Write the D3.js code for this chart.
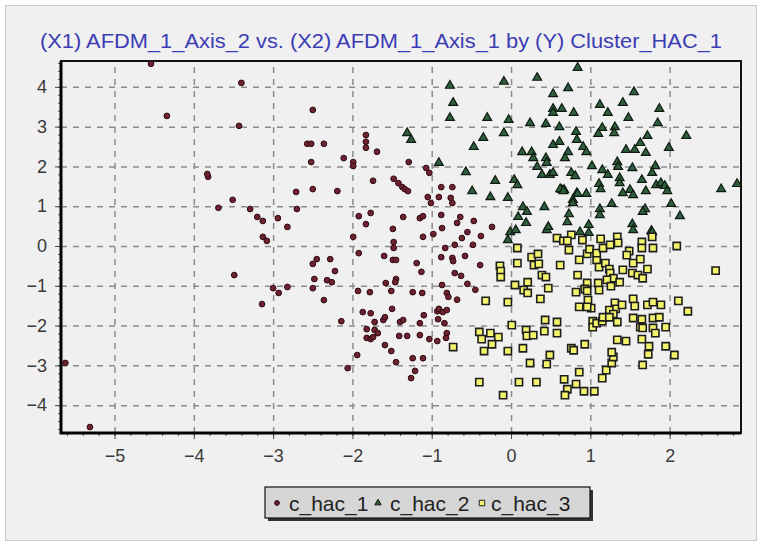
<!DOCTYPE html>
<html>
<head>
<meta charset="utf-8">
<script src="https://cdn.jsdelivr.net/npm/d3@7.9.0/dist/d3.min.js"></script>
<style>
  body { margin: 0; background: #fff; }
  svg { display: block; font-family: "Liberation Sans", Arial, sans-serif; }
</style>
</head>
<body>
<div id="chart"></div>
<script>
// cluster points: [Axis_1, Axis_2]
const hac1 = [
  [-4.54,4.58],[-4.34,3.27],[-3.82,1.74],[-3.83,1.81],[-5.62,-2.94],[-5.31,-4.55],
  [-3.40,4.10],[-2.50,3.42],[-3.43,3.02],[-2.57,2.57],[-2.52,2.57],[-2.36,2.57],
  [-1.83,2.79],[-1.83,2.62],[-1.83,2.47],[-1.69,2.37],[-2.52,2.11],[-2.11,2.21],
  [-1.99,2.11],[-1.99,2.01],[-1.29,2.11],[-1.07,1.96],[-1.03,1.84],[-1.74,1.64],
  [-1.48,1.69],[-1.42,1.58],[-1.37,1.48],[-1.34,1.43],[-1.30,1.38],[-2.71,1.36],
  [-2.50,1.43],[-2.19,1.38],[-3.51,1.16],[-3.69,0.96],[-3.29,0.93],[-3.20,0.73],
  [-3.13,0.63],[-2.94,0.70],[-2.70,0.93],[-2.82,0.48],[-3.13,0.23],[-3.08,0.13],
  [-1.92,0.75],[-1.77,0.83],[-1.83,0.55],[-1.36,0.73],[-1.49,0.43],[-1.99,0.23],
  [-1.48,0.10],[-1.48,-0.05],[-1.11,0.23],[-0.98,0.30],[-1.15,0.70],[-1.11,0.75],
  [-1.05,1.23],[-1.01,1.08],[-0.91,1.23],[-0.88,1.48],[-0.88,0.78],[-1.92,-0.18],
  [-1.60,-0.25],[-1.49,-0.35],[-1.45,-0.35],[-1.19,-0.43],[-1.13,-0.65],[-0.88,-0.28],
  [-3.49,-0.73],[-2.45,-0.33],[-2.50,-0.45],[-2.28,-0.33],[-2.22,-0.63],[-2.48,-0.83],
  [-2.32,-0.86],[-2.26,-0.91],[-3.00,-1.06],[-2.93,-1.18],[-2.82,-1.03],[-2.50,-1.06],
  [-3.14,-1.46],[-2.36,-1.36],[-1.93,-1.13],[-1.78,-1.16],[-1.58,-0.93],[-1.45,-0.83],
  [-1.46,-0.91],[-1.51,-1.13],[-1.24,-1.16],[-1.12,-1.18],[-0.87,-0.98],[-0.81,-1.18],
  [-0.79,-1.28],[-1.50,-1.58],[-1.87,-1.66],[-1.77,-1.69],[-2.14,-1.89],[-1.72,-1.91],
  [-1.61,-1.86],[-1.59,-1.79],[-1.40,-1.91],[-1.36,-1.86],[-1.15,-1.94],[-1.10,-1.74],
  [-0.93,-1.64],[-0.91,-1.58],[-0.86,-1.66],[-0.81,-1.61],[-0.92,-1.84],[-0.84,-1.94],
  [-1.82,-2.09],[-1.72,-2.11],[-1.68,-2.19],[-1.82,-2.31],[-1.77,-2.34],[-1.74,-2.29],
  [-1.59,-2.49],[-1.41,-2.26],[-1.31,-2.26],[-1.15,-2.24],[-1.03,-2.34],[-0.93,-2.39],
  [-0.81,-2.19],[-0.82,-2.31],[-1.94,-2.74],[-2.06,-3.07],[-1.51,-2.64],[-1.45,-2.92],
  [-1.24,-2.82],[-1.11,-2.82],[-1.21,-3.14],[-1.26,-3.32],
  [-0.74,1.48],[-0.76,1.21],[-0.74,1.08],[-0.64,0.73],[-0.68,0.58],[-0.47,0.63],
  [-0.87,0.45],[-0.55,0.35],[-0.62,0.20],[-0.38,0.25],[-0.24,0.48],[-0.83,-0.05],
  [-0.71,0.03],[-0.48,0.03],[-0.74,-0.30],[-0.73,-0.38],[-0.39,-0.48],[-0.71,-0.68],
  [-0.63,-0.75],[-0.55,-0.95],[-0.68,-1.35],[-0.45,-1.10],[-0.58,-0.25]
];

const hac2 = [
  [-0.77,4.03],[-0.73,3.60],[-0.77,3.22],[-1.31,2.84],[-1.26,2.67],[-0.09,4.13],
  [0.33,4.23],[-0.30,3.22],[-0.03,3.17],[-0.09,2.84],[-0.35,2.72],[-0.47,2.49],
  [-0.91,2.09],[-0.57,1.86],[-0.20,1.64],[-0.49,1.38],[-0.26,1.23],[-0.04,1.21],
  [0.04,1.66],[0.08,1.53],[0.15,0.98],[0.42,0.98],[0.72,3.97],[0.53,3.82],
  [0.53,3.45],[0.64,3.45],[0.53,3.35],[0.79,3.35],[0.24,3.09],[0.44,3.07],[0.61,2.99],
  [0.82,2.87],[0.14,2.36],[0.26,2.36],[0.28,2.21],[0.53,2.54],[0.61,2.62],[0.44,2.21],
  [0.45,2.09],[0.72,2.36],[0.68,2.21],[0.83,2.67],[0.33,1.99],[0.39,1.79],[0.49,1.79],
  [0.53,1.84],[0.76,1.84],[0.81,1.76],[0.64,1.41],[0.67,1.41],[0.78,1.16],[0.83,1.33],
  [0.84,4.48],[1.12,3.55],[1.22,3.35],[1.41,3.60],[1.55,3.87],[1.48,3.22],[1.87,3.45],
  [1.85,3.09],[1.15,2.97],[1.10,2.82],[1.31,2.99],[1.30,2.84],[1.72,2.77],[2.21,2.77],
  [0.91,2.49],[0.95,2.36],[1.45,2.42],[1.56,2.42],[1.63,2.59],[1.70,2.34],[1.99,2.47],
  [1.02,2.01],[1.15,1.91],[1.22,1.79],[1.34,2.11],[1.35,1.99],[1.53,1.96],[1.82,2.01],
  [1.78,1.84],[1.65,1.66],[1.37,1.71],[1.37,1.58],[1.11,1.56],[1.13,1.43],[1.83,1.53],
  [1.89,1.58],[1.94,1.51],[1.97,1.38],[1.70,1.38],[1.50,1.41],[1.54,1.28],[1.41,1.33],
  [0.62,1.43],[0.66,1.38],[0.84,1.31],[0.95,1.31],[0.78,1.08],[1.27,1.06],[1.12,0.93],
  [1.12,0.78],[1.69,0.93],[1.66,0.86],[2.02,1.06],[2.13,0.75],[0.73,0.80],[0.71,0.60],
  [0.98,0.53],[0.98,0.33],[0.87,0.35],[1.53,0.55],[1.54,0.40],[1.77,0.38],[2.65,1.43],
  [2.85,1.56],[0.20,0.86],[0.09,0.73],[0.19,0.58],[-0.01,0.35],
  [0.06,0.40],[-0.04,0.15],[0.45,0.40],[0.47,0.48],[1.78,0.35]
];

const hac3 = [
  [0.58,0.20],[0.66,0.13],[0.76,0.28],[0.71,0.13],[0.08,-0.05],[0.73,-0.10],
  [0.26,-0.28],[0.34,-0.20],[0.08,-0.43],[-0.14,-0.50],[-0.13,-0.63],[-0.13,-0.78],
  [0.29,-0.48],[0.35,-0.45],[0.62,-0.48],[0.39,-0.73],[0.44,-0.78],[0.05,-0.98],
  [0.21,-0.91],[0.16,-1.11],[0.21,-1.18],[0.47,-1.06],[-0.32,-1.38],[-0.04,-1.41],
  [0.37,-1.33],[0.86,-0.35],[0.84,-0.73],[0.96,-0.93],[0.82,-1.16],[1.08,-0.35],
  [1.11,-0.53],[1.19,-0.43],[1.24,-0.58],[0.93,-1.08],[0.96,-1.13],[0.90,0.15],
  [0.96,-0.20],[0.99,-0.08],[1.08,-0.18],[1.13,0.18],[1.16,-0.05],[1.25,0.03],
  [1.34,0.23],[1.35,0.08],[1.49,-0.13],[1.46,-0.23],[1.54,-0.43],[1.63,-0.33],
  [1.65,0.10],[1.78,0.23],[1.79,-0.05],[1.65,-0.05],[2.09,0.00],[1.25,-0.68],
  [1.29,-0.81],[1.37,-0.91],[1.41,-0.60],[1.53,-0.68],[1.60,-0.73],[1.66,-0.81],
  [1.72,-0.58],[0.97,-1.36],[1.01,-1.56],[0.96,-1.53],[0.86,-1.53],[1.10,-0.93],
  [1.11,-1.11],[1.21,-0.85],[1.26,-1.01],[1.31,-1.43],[1.32,-1.58],[1.24,-1.61],
  [1.29,-1.71],[1.40,-1.48],[1.54,-1.33],[1.56,-1.51],[1.54,-1.81],[1.65,-1.84],
  [1.72,-1.48],[1.79,-1.41],[1.89,-1.48],[1.79,-1.81],[1.87,-1.79],[2.11,-1.38],
  [2.23,-1.64],[1.79,-2.06],[1.82,-2.19],[1.95,-2.04],[1.63,-2.04],[1.66,-2.06],
  [1.03,-1.89],[1.03,-2.04],[1.08,-1.94],[1.15,-1.89],[1.16,-1.79],[1.24,-1.79],
  [1.34,-1.91],[1.34,-2.36],[1.45,-2.39],[1.65,-2.34],[1.74,-2.52],[1.73,-2.72],
  [1.95,-2.52],[2.06,-2.74],[1.66,-2.99],[-0.40,-2.16],[-0.37,-2.34],[-0.26,-2.19],
  [-0.16,-2.29],[-0.24,-2.47],[-0.34,-2.64],[-0.73,-2.54],[0.01,-1.99],[0.19,-2.11],
  [0.20,-2.26],[0.28,-2.24],[0.43,-1.86],[0.42,-2.14],[0.58,-1.91],[0.58,-2.19],
  [-0.04,-2.64],[0.15,-2.57],[0.49,-2.74],[0.45,-2.97],[0.24,-2.94],[0.76,-2.57],
  [0.79,-2.62],[0.93,-2.47],[0.86,-3.17],[-0.40,-3.42],[-0.10,-3.75],[0.10,-3.42],
  [0.32,-3.42],[0.67,-3.35],[0.71,-3.60],[0.82,-3.47],[0.68,-3.75],[0.92,-3.65],
  [1.05,-3.65],[1.15,-3.32],[1.20,-3.12],[1.27,-2.94],[1.29,-2.79],[1.27,-2.67],
  [2.58,-0.62]
];

const xTicks = [-5, -4, -3, -2, -1, 0, 1, 2];
const yTicks = [-4, -3, -2, -1, 0, 1, 2, 3, 4];
const seriesNames = ['c_hac_1', 'c_hac_2', 'c_hac_3'];
const title = '(X1) AFDM_1_Axis_2 vs. (X2) AFDM_1_Axis_1 by (Y) Cluster_HAC_1';

const width = 768, height = 548;
const plot = { left: 61, right: 741, top: 61, bottom: 433 };

const svg = d3.select('#chart').append('svg')
  .attr('width', width)
  .attr('height', height);

// panel background
svg.append('rect')
  .attr('x', 5.5).attr('y', 5.5)
  .attr('width', 751).attr('height', 535)
  .attr('fill', '#f0f0f0')
  .attr('stroke', '#c9c9c9');

svg.append('text')
  .attr('x', 40).attr('y', 48)
  .attr('textLength', 682)
  .attr('lengthAdjust', 'spacingAndGlyphs')
  .attr('font-size', 20)
  .attr('fill', '#3c3cb4')
  .text(title);

const x = d3.scaleLinear().domain([-5.675, 2.90]).range([plot.left, plot.right]);
const y = d3.scaleLinear().domain([-4.70, 4.65]).range([plot.bottom, plot.top]);

// dashed gridlines
const grid = svg.append('g').attr('class', 'grid');
grid.append('g')
  .attr('transform', `translate(0,${plot.bottom})`)
  .call(d3.axisBottom(x).tickValues(xTicks).tickFormat('').tickSize(-(plot.bottom - plot.top)));
grid.append('g')
  .attr('transform', `translate(${plot.left},0)`)
  .call(d3.axisLeft(y).tickValues(yTicks).tickFormat('').tickSize(-(plot.right - plot.left)));
grid.selectAll('.domain').remove();
grid.selectAll('line')
  .attr('stroke', '#8c8c8c')
  .attr('stroke-width', 1.5)
  .attr('stroke-dasharray', '6,6');

// minor ticks every 0.2
const minorX = d3.range(-5.6, 2.9, 0.2).map((d) => Math.round(d * 10) / 10);
const minorY = d3.range(-4.6, 4.65, 0.2).map((d) => Math.round(d * 10) / 10);
const minor = svg.append('g');
minor.append('g')
  .attr('transform', `translate(0,${plot.bottom})`)
  .call(d3.axisBottom(x).tickValues(minorX).tickFormat('').tickSize(3));
minor.append('g')
  .attr('transform', `translate(${plot.left},0)`)
  .call(d3.axisLeft(y).tickValues(minorY).tickFormat('').tickSize(3));
minor.selectAll('.domain').remove();
minor.selectAll('line').attr('stroke', '#555');

// major ticks + labels
const xAxis = svg.append('g')
  .attr('transform', `translate(0,${plot.bottom})`)
  .call(d3.axisBottom(x).tickValues(xTicks).tickSize(6).tickPadding(10));
const yAxis = svg.append('g')
  .attr('transform', `translate(${plot.left},0)`)
  .call(d3.axisLeft(y).tickValues(yTicks).tickSize(6).tickPadding(8));
[xAxis, yAxis].forEach((a) => {
  a.select('.domain').remove();
  a.selectAll('line').attr('stroke', '#444');
  a.selectAll('text')
    .attr('font-size', 18)
    .attr('fill', '#3a3a3a')
    .attr('font-family', '"Liberation Sans", Arial, sans-serif');
});

// frame
svg.append('rect')
  .attr('x', plot.left).attr('y', plot.top)
  .attr('width', plot.right - plot.left)
  .attr('height', plot.bottom - plot.top)
  .attr('fill', 'none')
  .attr('stroke', '#111')
  .attr('stroke-width', 2);
svg.append('path')
  .attr('d', `M${plot.left},${plot.top}V${plot.bottom}H${plot.right}`)
  .attr('fill', 'none')
  .attr('stroke', '#000')
  .attr('stroke-width', 3);

// markers
const styles = {
  c_hac_1: { fill: '#6e2230', stroke: '#2e0a12', sym: d3.symbolCircle, size: 26, sw: 1 },
  c_hac_2: { fill: '#2f5e3c', stroke: '#0d1a10', sym: d3.symbolTriangle, size: 34, sw: 1.2 },
  c_hac_3: { fill: '#f4f46c', stroke: '#1e1e1e', sym: d3.symbolSquare, size: 52, sw: 1.6 },
};

const dots = svg.append('g').attr('class', 'dots');
[[hac1, 'c_hac_1'], [hac2, 'c_hac_2'], [hac3, 'c_hac_3']].forEach(([pts, name]) => {
  const s = styles[name];
  dots.append('g')
    .selectAll('path')
    .data(pts)
    .join('path')
    .attr('transform', (d) => `translate(${x(d[0])},${y(d[1])})`)
    .attr('d', d3.symbol(s.sym, s.size))
    .attr('fill', s.fill)
    .attr('stroke', s.stroke)
    .attr('stroke-width', s.sw);
});

// legend
const lg = svg.append('g');
lg.append('rect')
  .attr('x', 268).attr('y', 490)
  .attr('width', 325).attr('height', 31)
  .attr('fill', '#333');
lg.append('rect')
  .attr('x', 265).attr('y', 487)
  .attr('width', 325).attr('height', 31)
  .attr('fill', '#d6d6d6')
  .attr('stroke', '#111')
  .attr('stroke-width', 1.2);

const legendX = [277, 378, 482];
seriesNames.forEach((name, i) => {
  const s = styles[name];
  lg.append('path')
    .attr('transform', `translate(${legendX[i]},${503})`)
    .attr('d', d3.symbol(s.sym, name === 'c_hac_3' ? 30 : 18))
    .attr('fill', s.fill)
    .attr('stroke', s.stroke)
    .attr('stroke-width', 1);
  lg.append('text')
    .attr('x', legendX[i] + (name === 'c_hac_3' ? 9 : 12))
    .attr('y', 511)
    .attr('font-size', 21)
    .attr('fill', '#222')
    .text(name);
});
</script>
</body>
</html>
